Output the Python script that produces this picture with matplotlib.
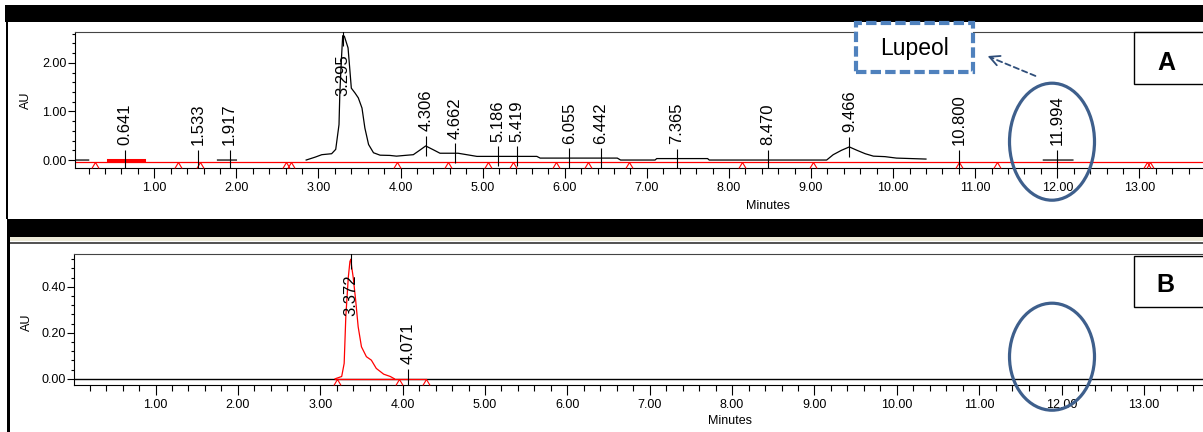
import numpy as np
import matplotlib
matplotlib.use("Agg")
import matplotlib.pyplot as plt
from matplotlib.patches import Rectangle, Ellipse
from matplotlib.ticker import MultipleLocator, FormatStrFormatter

plt.rcParams['font.family'] = ['Liberation Sans', 'DejaVu Sans']

# ---- data ----
# panel A: black trace (minutes, AU), NaN separates pieces
trace_a_t = [0.03, 0.20, np.nan,
             1.77, 2.00, np.nan,
             2.85, 2.96, 3.04, 3.16, 3.21, 3.25, 3.26, 3.28, 3.295, 3.315, 3.36,
             3.38, 3.40, 3.445, 3.485, 3.53, 3.565, 3.61, 3.67, 3.75, 3.87, 3.95,
             4.05, 4.155, 4.24, 4.306, 4.40, 4.48, 4.66, 4.70, 4.93, 5.66, 5.70,
             6.64, 6.68, 7.10, 7.12, 7.74, 7.76, 9.19, 9.27, 9.37, 9.466, 9.56,
             9.66, 9.76, 9.90, 10.04, 10.40, np.nan,
             11.83, 12.19]
trace_a_v = [0.0, 0.0, np.nan,
             0.0, 0.0, np.nan,
             0.0, 0.06, 0.11, 0.13, 0.22, 0.73, 1.38, 2.10, 2.56, 2.55, 2.31,
             1.90, 1.48, 1.38, 1.28, 1.07, 0.66, 0.32, 0.15, 0.10, 0.095, 0.08,
             0.095, 0.11, 0.21, 0.29, 0.21, 0.14, 0.14, 0.14, 0.075, 0.075, 0.04,
             0.04, 0.0, 0.0, 0.03, 0.03, 0.0, 0.0, 0.11, 0.20, 0.27, 0.20,
             0.13, 0.08, 0.07, 0.04, 0.02, np.nan,
             0.0, 0.0]
peaks_a = [0.641, 1.533, 1.917, 3.295, 4.306, 4.662, 5.186, 5.419, 6.055,
           6.442, 7.365, 8.470, 9.466, 10.800, 11.994]
heights_a = [0.0, 0.0, 0.0, 2.56, 0.29, 0.14, 0.075, 0.075, 0.04,
             0.04, 0.03, 0.0, 0.27, 0.0, 0.0]
marks_a = [0.28, 1.29, 1.56, 2.61, 2.66, 3.96, 4.58, 5.06, 5.37, 5.89,
           6.28, 6.78, 8.16, 9.02, 10.80, 11.26, 13.09, 13.13]
baseline_a = -0.035
seg_a = [0.43, 0.87]

# panel B: red trace
trace_b_t = [3.18, 3.26, 3.29, 3.31, 3.34, 3.36, 3.372, 3.38, 3.40, 3.43,
             3.46, 3.50, 3.56, 3.62, 3.68, 3.77, 3.85, 3.90]
trace_b_v = [0.0, 0.01, 0.067, 0.27, 0.44, 0.51, 0.52, 0.49, 0.44, 0.34,
             0.226, 0.139, 0.096, 0.081, 0.045, 0.02, 0.01, 0.0]
peaks_b = [3.372, 4.071]
heights_b = [0.52, 0.0]
marks_b = [3.20, 3.96, 4.28]
seg_b = [3.18, 4.28]

W, H = 1203, 432


def fx(x):
    return x / W


def fy(y):
    return 1 - y / H


fig = plt.figure(figsize=(W / 100, H / 100), dpi=100)
fig.patch.set_facecolor('white')

tent = [(-0.6, -1.0), (0.0, 0.0), (0.6, -1.0)]


def setup_axes(ax, xlim, ylim, ymajor, yminor):
    ax.set_xlim(*xlim)
    ax.set_ylim(*ylim)
    ax.xaxis.set_major_locator(MultipleLocator(1))
    ax.xaxis.set_minor_locator(MultipleLocator(0.2))
    ax.yaxis.set_major_locator(MultipleLocator(ymajor))
    ax.yaxis.set_minor_locator(MultipleLocator(yminor))
    ax.xaxis.set_major_formatter(FormatStrFormatter('%.2f'))
    ax.yaxis.set_major_formatter(FormatStrFormatter('%.2f'))
    ax.tick_params(axis='x', which='major', length=7.2, width=0.8, labelsize=9, pad=3)
    ax.tick_params(axis='x', which='minor', length=4.3, width=0.8)
    ax.tick_params(axis='y', which='major', length=5, width=0.8, labelsize=9, pad=1)
    ax.tick_params(axis='y', which='minor', length=2.2, width=0.8)
    for s in ax.spines.values():
        s.set_linewidth(0.8)
        s.set_color('black')
    ax.spines['top'].set_color('#444444')


def peak_labels(ax, peaks, heights):
    ytop = ax.get_ylim()[1]
    for rt, h in zip(peaks, heights):
        ax.plot(rt, h, marker='|', ms=14, mew=0.8, color='black', zorder=4)
        if h > 0.6 * ytop:
            # too tall to label above: the label sits half way up the plot
            ax.annotate(f'{rt:.3f}', xy=(rt, 0.53), xycoords=('data', 'axes fraction'),
                        rotation=90, ha='center', va='bottom', fontsize=12, zorder=5)
        else:
            ax.annotate(f'{rt:.3f}', xy=(rt, h), xytext=(0, 10.5), textcoords='offset points',
                        rotation=90, ha='center', va='bottom', fontsize=12, zorder=5)


# ---- panel A ----
axA = fig.add_axes([fx(75), fy(168), fx(1217.4) - fx(75), fy(32.3) - fy(168)])
setup_axes(axA, (0.034, 13.95), (-0.164, 2.63), 1.0, 0.2)
axA.axhline(baseline_a, color='red', lw=0.9, zorder=2)
axA.plot(seg_a, [0, 0], color='red', lw=2.2, zorder=2)
axA.plot(trace_a_t, trace_a_v, color='black', lw=0.9, zorder=3)
axA.plot(marks_a, [baseline_a] * len(marks_a), ls='none', marker=tent, ms=8.6,
         mfc='none', mec='red', mew=0.8, clip_on=False, zorder=3)
peak_labels(axA, peaks_a, heights_a)

# ---- panel B ----
axB = fig.add_axes([fx(74), fy(385), fx(1222.2) - fx(74), fy(254.3) - fy(385)])
setup_axes(axB, (0.01, 13.95), (-0.027, 0.541), 0.2, 0.04)
axB.axhline(0, color='black', lw=1.0, zorder=2)
axB.plot(seg_b, [0, 0], color='red', lw=0.9, zorder=3)
axB.plot(trace_b_t, trace_b_v, color='red', lw=0.9, zorder=3)
axB.plot(marks_b, [0] * len(marks_b), ls='none', marker=tent, ms=8.6,
         mfc='none', mec='red', mew=0.8, clip_on=False, zorder=3)
peak_labels(axB, peaks_b, heights_b)

# axis titles
fig.text(fx(26), fy(100), 'AU', rotation=90, ha='center', va='center', fontsize=9)
fig.text(fx(768), fy(206), 'Minutes', ha='center', va='center', fontsize=9)
fig.text(fx(26.5), fy(322), 'AU', rotation=90, ha='center', va='center', fontsize=9)
fig.text(fx(730), fy(421.5), 'Minutes', ha='center', va='center', fontsize=9)

# ---- window frame pieces ----
def px_rect(x0, y0, x1, y1, **kw):
    fig.add_artist(Rectangle((fx(x0), fy(y1)), fx(x1) - fx(x0), fy(y0) - fy(y1),
                             transform=fig.transFigure, **kw))


px_rect(5, 5, 1203, 22, color='black', lw=0)
px_rect(6, 22, 8, 219, color='black', lw=0)
px_rect(7, 219, 1203, 237, color='black', lw=0)
px_rect(10, 237, 1203, 241, color='#ECE9D8', lw=0)
px_rect(10, 241.5, 1203, 243.5, color='#555555', lw=0)
px_rect(7, 219, 10, 432, color='black', lw=0)

# panel letters
px_rect(1134, 32.3, 1215, 84, fc='white', ec='black', lw=1.0, zorder=5)
fig.text(fx(1166), fy(63), 'A', ha='center', va='center', fontsize=18, fontweight='bold', zorder=6)
px_rect(1134, 255.7, 1215, 307.3, fc='white', ec='black', lw=1.0, zorder=5)
fig.text(fx(1165), fy(285), 'B', ha='center', va='center', fontsize=18, fontweight='bold', zorder=6)

# Lupeol call-out
px_rect(856, 23, 973, 72, fc='white', ec='#4F81BD', lw=3, ls=(0, (2.5, 1)), zorder=5)
fig.text(fx(915), fy(49), 'Lupeol', ha='center', va='center', fontsize=16.5, zorder=6)
fig.add_artist(Ellipse((fx(1052), fy(141.7)), 85 / W, 117 / H, transform=fig.transFigure,
                       fill=False, ec='#3E5F8C', lw=2.3, zorder=5))
fig.add_artist(Ellipse((fx(1052), fy(356.7)), 85 / W, 107 / H, transform=fig.transFigure,
                       fill=False, ec='#3E5F8C', lw=2.3, zorder=5))
axA.annotate('', xy=(fx(992), fy(58)), xytext=(fx(1038), fy(77)), xycoords='figure fraction',
             arrowprops=dict(arrowstyle='-', ls=(0, (3, 2)), color='#2F4E7A', lw=1.3))
axA.annotate('', xy=(fx(985), fy(55)), xytext=(fx(996), fy(59.5)), xycoords='figure fraction',
             arrowprops=dict(arrowstyle='->', color='#2F4E7A', lw=1.3, mutation_scale=18))

fig.savefig('out.png', dpi=100)
